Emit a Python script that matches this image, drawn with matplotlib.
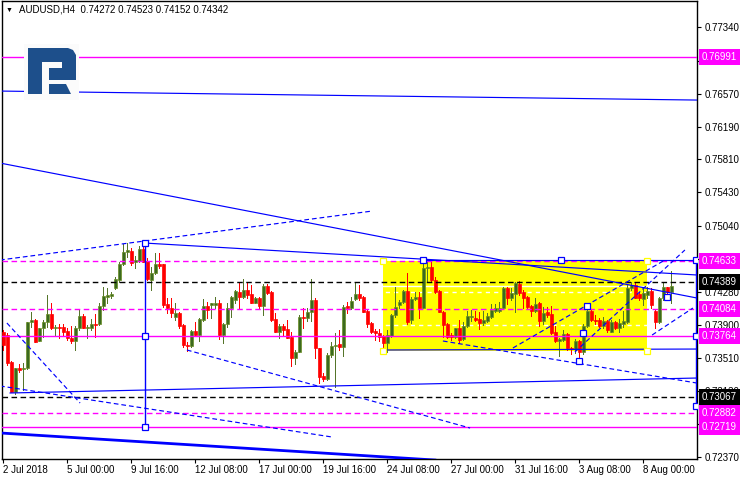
import matplotlib
matplotlib.use('Agg')
import matplotlib.pyplot as plt
from matplotlib.transforms import blended_transform_factory
from matplotlib.patches import Rectangle, Polygon

plt.rcParams['font.family'] = ['Liberation Sans', 'DejaVu Sans']

# ---------------- data ----------------
opens = [0.73820,0.73781,0.73473,0.73126,0.73396,0.73384,0.73396,0.73927,0.73954,0.73716,
         0.73858,0.73927,0.74024,0.73858,0.73873,0.73873,0.73827,0.73750,0.73712,0.73858,
         0.74004,0.73866,0.73866,0.73904,0.73904,0.74116,0.74220,0.74231,0.74320,0.74416,
         0.74597,0.74743,0.74751,0.74628,0.74636,0.74774,0.74636,0.74416,0.74493,0.74597,
         0.74597,0.74135,0.74097,0.73993,0.74031,0.73896,0.73665,0.73654,0.73827,0.73781,
         0.73954,0.74120,0.74127,0.74127,0.74147,0.73781,0.73904,0.74089,0.74185,0.74274,
         0.74224,0.74301,0.74251,0.74155,0.74212,0.74120,0.74351,0.74274,0.73966,0.73820,
         0.73889,0.73850,0.73762,0.73512,0.73589,0.73993,0.73974,0.74051,0.74185,0.73627,
         0.73311,0.73273,0.73550,0.73658,0.73673,0.73646,0.74120,0.74097,0.74197,0.74251,
         0.74224,0.74058,0.73916,0.73827,0.73808,0.73769,0.73685,0.73773,0.74012,0.74127,
         0.74166,0.74289,0.73954,0.74197,0.74224,0.74097,0.74551,0.74566,0.74416,0.74289,
         0.74051,0.73904,0.73781,0.73762,0.73858,0.73735,0.73889,0.73993,0.73974,0.73966,
         0.73916,0.73943,0.73993,0.74058,0.74058,0.74089,0.74328,0.74212,0.74251,0.74366,
         0.74274,0.74224,0.74120,0.74058,0.74147,0.73943,0.74051,0.74020,0.73812,0.73712,
         0.73723,0.73796,0.73635,0.73619,0.73712,0.73589,0.73889,0.74058,0.73954,0.73954,
         0.73889,0.73943,0.73820,0.73927,0.73866,0.73904,0.73927,0.74320,0.74359,0.74251,
         0.74197,0.74243,0.74289,0.74058,0.73927,0.74204,0.74330,0.74272]
highs = [0.73839,0.73800,0.73481,0.73404,0.73446,0.73454,0.73935,0.74043,0.73962,0.73866,
         0.73954,0.74243,0.74147,0.73896,0.73904,0.73904,0.73858,0.73889,0.73889,0.74081,
         0.74020,0.73896,0.73966,0.74024,0.74147,0.74339,0.74320,0.74281,0.74455,0.74628,
         0.74828,0.74840,0.74782,0.74697,0.74813,0.74801,0.74666,0.74570,0.74724,0.74724,
         0.74605,0.74204,0.74204,0.74147,0.74043,0.73904,0.73704,0.73839,0.73927,0.73981,
         0.74197,0.74166,0.74155,0.74224,0.74185,0.73916,0.74147,0.74231,0.74301,0.74378,
         0.74428,0.74397,0.74359,0.74224,0.74224,0.74366,0.74366,0.74289,0.74031,0.73904,
         0.73904,0.73954,0.73812,0.73608,0.74012,0.74089,0.74089,0.74428,0.74204,0.73635,
         0.73338,0.73569,0.73696,0.73800,0.73839,0.74127,0.74166,0.74224,0.74378,0.74359,
         0.74235,0.74070,0.73927,0.73850,0.73850,0.73781,0.73839,0.74020,0.74339,0.74185,
         0.74301,0.74493,0.74224,0.74274,0.74281,0.74609,0.74620,0.74620,0.74455,0.74301,
         0.74058,0.73916,0.73800,0.73866,0.73954,0.73935,0.74058,0.74070,0.74058,0.74051,
         0.74058,0.74031,0.74135,0.74135,0.74166,0.74339,0.74339,0.74320,0.74397,0.74405,
         0.74301,0.74235,0.74127,0.74204,0.74166,0.74108,0.74108,0.74120,0.73889,0.73742,
         0.73839,0.73808,0.73646,0.73735,0.73723,0.73904,0.74108,0.74081,0.74012,0.73974,
         0.73993,0.73954,0.73954,0.73943,0.73966,0.74058,0.74366,0.74389,0.74389,0.74281,
         0.74312,0.74339,0.74328,0.74070,0.74224,0.74397,0.74339,0.74523]
lows = [0.73608,0.73434,0.73119,0.73096,0.73350,0.73146,0.73388,0.73877,0.73696,0.73712,
        0.73762,0.73877,0.73850,0.73781,0.73742,0.73781,0.73723,0.73685,0.73608,0.73839,
        0.73858,0.73742,0.73839,0.73762,0.73896,0.74070,0.74147,0.74204,0.74312,0.74397,
        0.74589,0.74686,0.74589,0.74551,0.74628,0.74620,0.74416,0.74301,0.74482,0.74551,
        0.74108,0.74031,0.73993,0.73954,0.73858,0.73646,0.73596,0.73642,0.73773,0.73712,
        0.73943,0.73974,0.73974,0.74097,0.73735,0.73685,0.73877,0.73993,0.74147,0.74089,
        0.74204,0.74204,0.74147,0.74147,0.74097,0.74012,0.74251,0.73943,0.73812,0.73750,
        0.73781,0.73742,0.73427,0.73442,0.73581,0.73858,0.73943,0.73943,0.73519,0.73223,
        0.73250,0.73261,0.73531,0.73184,0.73608,0.73542,0.74031,0.74081,0.74185,0.74185,
        0.74043,0.73877,0.73800,0.73723,0.73712,0.73646,0.73589,0.73762,0.73993,0.74089,
        0.74147,0.73904,0.73916,0.74185,0.73981,0.74089,0.74405,0.74397,0.74262,0.74043,
        0.73762,0.73742,0.73723,0.73742,0.73685,0.73723,0.73877,0.73943,0.73943,0.73850,
        0.73896,0.73927,0.73981,0.74043,0.74051,0.74081,0.74135,0.74185,0.74051,0.74243,
        0.74089,0.74097,0.74004,0.74043,0.73889,0.73904,0.73993,0.73789,0.73704,0.73542,
        0.73712,0.73608,0.73558,0.73569,0.73481,0.73558,0.73877,0.73943,0.73904,0.73877,
        0.73858,0.73820,0.73812,0.73850,0.73812,0.73877,0.73916,0.74301,0.74204,0.74185,
        0.74127,0.74204,0.74089,0.73858,0.73916,0.74185,0.74185,0.74152]
closes = [0.73665,0.73454,0.73126,0.73396,0.73377,0.73404,0.73927,0.73954,0.73704,0.73858,
          0.73927,0.74024,0.73858,0.73877,0.73866,0.73820,0.73742,0.73712,0.73858,0.74004,
          0.73866,0.73877,0.73904,0.73896,0.74116,0.74231,0.74243,0.74251,0.74428,0.74597,
          0.74743,0.74763,0.74609,0.74647,0.74774,0.74628,0.74428,0.74493,0.74597,0.74582,
          0.74127,0.74089,0.74031,0.74031,0.73889,0.73665,0.73654,0.73827,0.73781,0.73966,
          0.74120,0.74070,0.74147,0.74147,0.73781,0.73904,0.74089,0.74224,0.74289,0.74224,
          0.74301,0.74243,0.74155,0.74204,0.74120,0.74347,0.74262,0.73954,0.73820,0.73889,
          0.73839,0.73750,0.73512,0.73589,0.73993,0.73974,0.74051,0.74185,0.73627,0.73300,
          0.73273,0.73550,0.73658,0.73665,0.73646,0.74108,0.74097,0.74174,0.74251,0.74204,
          0.74051,0.73904,0.73812,0.73800,0.73762,0.73685,0.73781,0.74012,0.74108,0.74158,
          0.74289,0.73927,0.74197,0.74224,0.74097,0.74551,0.74566,0.74416,0.74281,0.74051,
          0.73896,0.73762,0.73762,0.73858,0.73723,0.73889,0.74000,0.74004,0.73954,0.73916,
          0.73954,0.74004,0.74070,0.74089,0.74097,0.74328,0.74212,0.74262,0.74378,0.74262,
          0.74212,0.74108,0.74058,0.74135,0.73943,0.74031,0.74012,0.73800,0.73712,0.73735,
          0.73796,0.73627,0.73619,0.73712,0.73581,0.73889,0.74058,0.73954,0.73943,0.73889,
          0.73943,0.73839,0.73927,0.73866,0.73916,0.73943,0.74328,0.74359,0.74212,0.74204,
          0.74262,0.74289,0.74127,0.73927,0.74212,0.74339,0.74274,0.74342]

price_ticks = [0.77340,0.76950,0.76570,0.76190,0.75810,0.75430,0.75040,0.74660,
               0.74280,0.73900,0.73510,0.73130,0.72750,0.72370]
hidden_ticks = [0.74660, 0.72750]   # fully covered by level boxes in the reference
date_tick_bars = [0,16,32,48,64,80,96,112,128,144,160]
date_labels = ['2 Jul 2018','5 Jul 00:00','9 Jul 16:00','12 Jul 08:00','17 Jul 00:00',
               '19 Jul 16:00','24 Jul 08:00','27 Jul 00:00','31 Jul 16:00','3 Aug 08:00',
               '8 Aug 00:00']

magenta_solid = [0.76991, 0.73764, 0.72719]
magenta_dash = [0.74633, 0.74084, 0.72882]
black_dash = [0.74389, 0.73067]
magenta_labels = [0.76991, 0.74633, 0.74084, 0.73764, 0.72882, 0.72719]
black_labels = [0.74389, 0.73067]
white_grid = [0.74280, 0.73900]
bid_price = 0.74342

# trend lines: (bar0, price0, bar1, price1)
solid_lines = [(-0.825,0.76600,173.4,0.76496),
               (-0.825,0.75768,173.4,0.74208),
               (35.4,0.74843,173.4,0.74474),
               (1.7,0.73110,173.4,0.73283),
               (95.0,0.73607,173.4,0.73618),
               (104.9,0.74647,173.4,0.74647)]
thick_lines = [(-0.825,0.72648,107.9,0.72335)]
dashed_lines = [(-0.825,0.74647,92.2,0.75213),
                (0.9,0.73919,19.2,0.72994),
                (-0.825,0.73191,82.2,0.72601),
                (45.9,0.73607,116.7,0.72705),
                (109.9,0.73711,173.4,0.73225),
                (142.9,0.73584,170.4,0.74763),
                (127.4,0.73630,165.4,0.74647),
                (162.2,0.73780,172.4,0.74092)]
vertical_lines = [(35.4,0.72719,0.74843),(173.1,0.72959,0.74647)]
square_x = [35.4,35.4,35.4,104.9,139.4,173.1,173.1,173.1,143.9,144.9,145.9,165.9]
square_p = [0.74843,0.73764,0.72719,0.74647,0.74647,0.74647,0.73764,0.72959,0.73475,0.73803,0.74115,0.74219]
rect_bars = (94.9, 160.9)
rect_prices = (0.73595, 0.74635)

# ---------------- figure ----------------
W, H = 740, 480
fig = plt.figure(figsize=(W/100, H/100), dpi=100)
fig.patch.set_facecolor('white')
ax = fig.add_axes([2/W, 21/H, 695/W, 458/H])
ax.set_xlim(-0.325, 173.425)
ax.set_ylim(0.72347, 0.77641)
ax.set_facecolor('white')

LW = 0.72
HLW = 1.0
MAG = '#FF00FF'
BLUE = '#0000FF'
DASH = (0, (4, 2.5))

# yellow rectangle
ax.add_patch(Rectangle((rect_bars[0], rect_prices[0]), rect_bars[1]-rect_bars[0],
                       rect_prices[1]-rect_prices[0], facecolor='#FFFF00', edgecolor='none', zorder=1))
for gp in white_grid:
    ax.axhline(gp, color='white', lw=HLW, ls=(0, (3, 3)), zorder=1.5)
ax.axhline(bid_price, color='white', lw=HLW, zorder=1.5)

# candles
xs = list(range(len(closes)))
bull = [c >= o for o, c in zip(opens, closes)]
wick_col = ['#55752A' if b else '#FF0000' for b in bull]
face_col = ['#3B6A1E' if b else '#FF0000' for b in bull]
edge_col = ['#6B8E23' if b else '#FF0000' for b in bull]
ax.vlines(xs, lows, highs, colors=wick_col, lw=LW, zorder=3, antialiased=False)
bottoms = [min(o, c) for o, c in zip(opens, closes)]
heights = [max(abs(c - o), 0.00003) for o, c in zip(opens, closes)]
ax.bar(xs, heights, bottom=bottoms, width=0.72, color=face_col, edgecolor=edge_col,
       linewidth=0.5, zorder=3.2)

# horizontal levels
for p in magenta_solid:
    ax.axhline(p, color=MAG, lw=HLW, zorder=4)
for p in magenta_dash:
    ax.axhline(p, color=MAG, lw=HLW, ls=DASH, zorder=4)
for p in black_dash:
    ax.axhline(p, color='black', lw=HLW, ls=DASH, zorder=4)

# trend lines
for x0, p0, x1, p1 in solid_lines:
    ax.plot([x0, x1], [p0, p1], color=BLUE, lw=0.85, zorder=4.5)
for x0, p0, x1, p1 in thick_lines:
    ax.plot([x0, x1], [p0, p1], color=BLUE, lw=2.0, zorder=4.5)
for x0, p0, x1, p1 in dashed_lines:
    ax.plot([x0, x1], [p0, p1], color=BLUE, lw=0.85, ls=DASH, zorder=4.5)
for x, p0, p1 in vertical_lines:
    ax.plot([x, x], [p0, p1], color=BLUE, lw=HLW, zorder=4.5)
ax.plot(square_x, square_p, ls='none', marker='s', ms=4.5, mfc='white', mec=BLUE, mew=0.9, zorder=6)
ax.plot([rect_bars[0], rect_bars[0], rect_bars[1], rect_bars[1]],
        [rect_prices[0], rect_prices[1], rect_prices[0], rect_prices[1]],
        ls='none', marker='s', ms=4.5, mfc='white', mec='#FFFF00', mew=0.9, zorder=6)

# axes styling
for s in ax.spines.values():
    s.set_color('black')
    s.set_linewidth(1.0)
ax.yaxis.tick_right()
ax.set_yticks(price_ticks)
ax.set_yticklabels(['' if p in hidden_ticks else '%.5f' % p for p in price_ticks])
ax.tick_params(axis='y', length=3, width=0.8, pad=2.5, labelsize=7, colors='black')
ax.set_xticks(date_tick_bars)
ax.set_xticklabels(date_labels)
for lab in ax.get_xticklabels():
    lab.set_horizontalalignment('left')
ax.tick_params(axis='x', length=3, width=0.8, pad=1.5, labelsize=7, colors='black')

# right-hand price boxes
tr = blended_transform_factory(fig.transFigure, ax.transData)
for p in magenta_labels:
    ax.text(702/W, p, '%.5f' % p, transform=tr, ha='left', va='center', fontsize=7,
            color='white', clip_on=False, zorder=10,
            bbox=dict(boxstyle='square,pad=0.3', fc=MAG, ec='none'))
for p in black_labels:
    ax.text(702/W, p, '%.5f' % p, transform=tr, ha='left', va='center', fontsize=7,
            color='white', clip_on=False, zorder=10,
            bbox=dict(boxstyle='square,pad=0.3', fc='black', ec='none'))

# title
fig.text(6/W, 1 - 10/H, '\u25BC', fontsize=5, va='center', ha='left', color='black')
fig.text(19/W, 1 - 10/H, 'AUDUSD,H4  0.74272 0.74523 0.74152 0.74342', fontsize=7,
         va='center', ha='left', color='black')

# logo (decoration)
lax = fig.add_axes([0, 0, 1, 1], facecolor='none')
lax.set_xlim(0, W)
lax.set_ylim(H, 0)
lax.axis('off')
LOGO = '#1D4F8B'
lax.add_patch(Rectangle((24, 44), 55, 56, fc='#FBFBFB', ec='none'))
lax.add_patch(Rectangle((28, 48), 14, 46, fc=LOGO, ec='none'))
lax.add_patch(Polygon([(28, 48), (68, 48), (73, 50), (76, 55), (76, 80), (49, 80), (49, 68),
                       (62, 68), (62, 62), (42, 62), (42, 48)], closed=True, fc=LOGO, ec='none'))
lax.add_patch(Polygon([(49, 84), (66, 84), (71, 94), (49, 94)], closed=True, fc=LOGO, ec='none'))

fig.savefig('out.png', dpi=100)
